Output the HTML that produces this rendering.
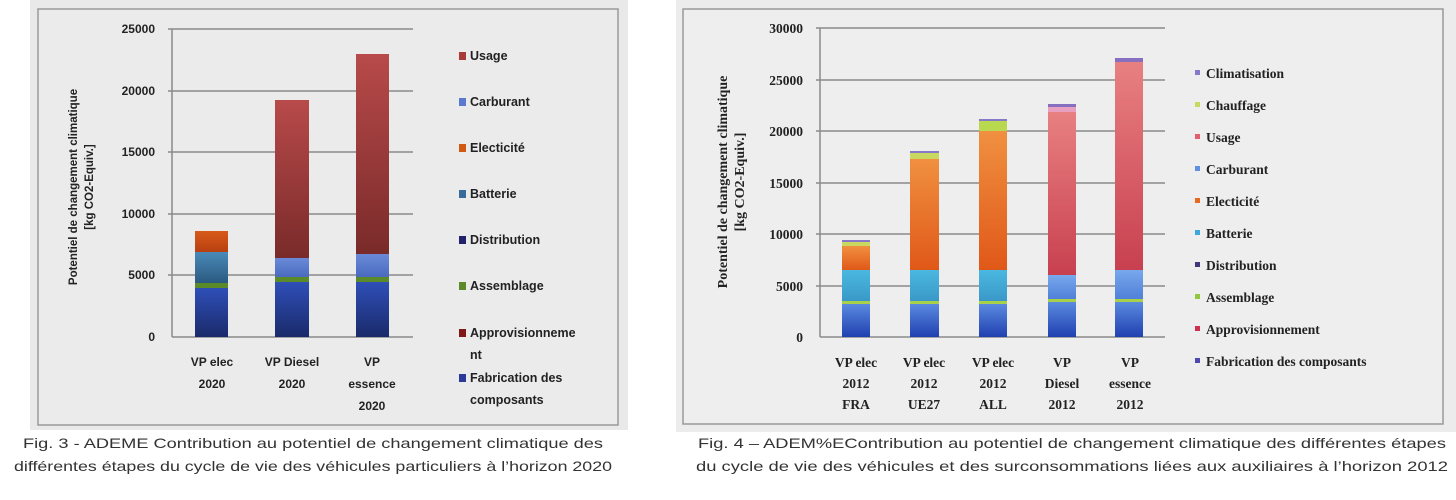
<!DOCTYPE html>
<html><head><meta charset="utf-8"><style>
html,body{margin:0;padding:0;background:#fff;}
svg{display:block;font-family:"Liberation Sans",sans-serif;}
</style></head><body>
<svg width="1456" height="500" viewBox="0 0 1456 500" xmlns="http://www.w3.org/2000/svg">
<defs>
<linearGradient id="gB" x1="0" y1="0" x2="0" y2="1"><stop offset="0" stop-color="#2f4fb8"/><stop offset="1" stop-color="#1a2a6a"/></linearGradient>
<linearGradient id="gR" x1="0" y1="0" x2="0" y2="1"><stop offset="0" stop-color="#b84a4a"/><stop offset="1" stop-color="#7a2a2a"/></linearGradient>
<linearGradient id="gBat" x1="0" y1="0" x2="0" y2="1"><stop offset="0" stop-color="#4a8ab8"/><stop offset="1" stop-color="#2a5a80"/></linearGradient>
<linearGradient id="gC" x1="0" y1="0" x2="0" y2="1"><stop offset="0" stop-color="#6a8ad8"/><stop offset="1" stop-color="#4a6ac0"/></linearGradient>
<linearGradient id="gO" x1="0" y1="0" x2="0" y2="1"><stop offset="0" stop-color="#d85a1a"/><stop offset="1" stop-color="#b84010"/></linearGradient>
<linearGradient id="rB" x1="0" y1="0" x2="0" y2="1"><stop offset="0" stop-color="#5a8ae0"/><stop offset="1" stop-color="#2040b0"/></linearGradient>
<linearGradient id="rCy" x1="0" y1="0" x2="0" y2="1"><stop offset="0" stop-color="#4ab8e0"/><stop offset="1" stop-color="#3a98c8"/></linearGradient>
<linearGradient id="rO" x1="0" y1="0" x2="0" y2="1"><stop offset="0" stop-color="#f09040"/><stop offset="1" stop-color="#e05818"/></linearGradient>
<linearGradient id="rR" x1="0" y1="0" x2="0" y2="1"><stop offset="0" stop-color="#e88080"/><stop offset="1" stop-color="#c84050"/></linearGradient>
<linearGradient id="rC" x1="0" y1="0" x2="0" y2="1"><stop offset="0" stop-color="#78a8ec"/><stop offset="1" stop-color="#5080d8"/></linearGradient>
</defs>
<rect width="1456" height="500" fill="#fff"/>
<!-- LEFT PANEL -->
<rect x="30" y="0" width="598" height="430" fill="#e9e9e9"/>
<rect x="38" y="9" width="580" height="416" fill="#ebebeb" stroke="#999" stroke-width="1.5"/>
<g stroke="#8a8a8a" stroke-width="1.5">
<line x1="168" y1="29" x2="413" y2="29"/><line x1="168" y1="91" x2="413" y2="91"/><line x1="168" y1="152" x2="413" y2="152"/><line x1="168" y1="214" x2="413" y2="214"/><line x1="168" y1="275" x2="413" y2="275"/>
<line x1="172" y1="29" x2="172" y2="337"/><line x1="172" y1="337" x2="413" y2="337"/>
</g>
<g font-size="12" font-weight="bold" fill="#222" text-anchor="end">
<text x="155" y="33">25000</text><text x="155" y="95">20000</text><text x="155" y="156">15000</text><text x="155" y="218">10000</text><text x="155" y="279">5000</text><text x="155" y="341">0</text>
</g>
<text transform="translate(77,187) rotate(-90)" font-size="11.5" font-weight="bold" text-anchor="middle" fill="#222">Potentiel de changement climatique</text>
<text transform="translate(93,187) rotate(-90)" font-size="11.5" font-weight="bold" text-anchor="middle" fill="#222">[kg CO2-Equiv.]</text>
<rect x="195" y="288" width="33" height="49" fill="url(#gB)"/>
<rect x="195" y="283" width="33" height="5" fill="#5a8a2a"/>
<rect x="195" y="252" width="33" height="31" fill="url(#gBat)"/>
<rect x="195" y="231" width="33" height="21" fill="url(#gO)"/>
<rect x="275" y="282" width="34" height="55" fill="url(#gB)"/>
<rect x="275" y="277" width="34" height="5" fill="#5a8a2a"/>
<rect x="275" y="258" width="34" height="19" fill="url(#gC)"/>
<rect x="275" y="100" width="34" height="158" fill="url(#gR)"/>
<rect x="356" y="282" width="33" height="55" fill="url(#gB)"/>
<rect x="356" y="277" width="33" height="5" fill="#5a8a2a"/>
<rect x="356" y="254" width="33" height="23" fill="url(#gC)"/>
<rect x="356" y="54" width="33" height="200" fill="url(#gR)"/>
<g font-size="12" font-weight="bold" fill="#222" text-anchor="middle">
<text x="212" y="366">VP elec</text><text x="212" y="388">2020</text>
<text x="292" y="366">VP Diesel</text><text x="292" y="388">2020</text>
<text x="372" y="366">VP</text><text x="372" y="388">essence</text><text x="372" y="410">2020</text>
</g>
<g font-size="12.5" font-weight="bold" fill="#222">
<rect x="459" y="52" width="7" height="8" fill="#a83a3a"/><text x="470" y="60">Usage</text>
<rect x="459" y="98" width="7" height="8" fill="#5a7ad0"/><text x="470" y="106">Carburant</text>
<rect x="459" y="144" width="7" height="8" fill="#d05a10"/><text x="470" y="152">Electicité</text>
<rect x="459" y="190" width="7" height="8" fill="#3a6a98"/><text x="470" y="198">Batterie</text>
<rect x="459" y="236" width="7" height="8" fill="#22226a"/><text x="470" y="244">Distribution</text>
<rect x="459" y="282" width="7" height="8" fill="#5a8a2a"/><text x="470" y="290">Assemblage</text>
<rect x="459" y="329" width="7" height="8" fill="#801818"/><text x="470" y="337">Approvisionneme</text><text x="470" y="359">nt</text>
<rect x="459" y="374" width="7" height="8" fill="#2a3a98"/><text x="470" y="382">Fabrication des</text><text x="470" y="404">composants</text>
</g>
<!-- RIGHT PANEL -->
<rect x="676" y="0" width="780" height="432" fill="#ececec"/>
<rect x="683" y="9" width="760" height="415" fill="#eeeeee" stroke="#999" stroke-width="1.5"/>
<g stroke="#8a8a8a" stroke-width="1.5">
<line x1="816" y1="28" x2="1165" y2="28"/><line x1="816" y1="80" x2="1165" y2="80"/><line x1="816" y1="131" x2="1165" y2="131"/><line x1="816" y1="183" x2="1165" y2="183"/><line x1="816" y1="234" x2="1165" y2="234"/><line x1="816" y1="286" x2="1165" y2="286"/>
<line x1="820" y1="28" x2="820" y2="337"/><line x1="820" y1="337" x2="1165" y2="337"/>
</g>
<g font-family="Liberation Serif, serif" font-size="13.5" font-weight="bold" fill="#222" text-anchor="end">
<text x="803" y="33">30000</text><text x="803" y="85">25000</text><text x="803" y="136">20000</text><text x="803" y="188">15000</text><text x="803" y="239">10000</text><text x="803" y="291">5000</text><text x="803" y="342">0</text>
</g>
<text transform="translate(727,182) rotate(-90)" font-family="Liberation Serif, serif" font-size="14" font-weight="bold" text-anchor="middle" fill="#222">Potentiel de changement climatique</text>
<text transform="translate(744,182) rotate(-90)" font-family="Liberation Serif, serif" font-size="14" font-weight="bold" text-anchor="middle" fill="#222">[kg CO2-Equiv.]</text>
<rect x="842" y="304" width="28" height="33" fill="url(#rB)"/><rect x="842" y="301" width="28" height="3" fill="#a8d048"/>
<rect x="842" y="270" width="28" height="31" fill="url(#rCy)"/><rect x="842" y="246" width="28" height="24" fill="url(#rO)"/>
<rect x="842" y="242" width="28" height="4" fill="#c8d860"/><rect x="842" y="240" width="28" height="2" fill="#8878c8"/>
<rect x="910" y="304" width="29" height="33" fill="url(#rB)"/><rect x="910" y="301" width="29" height="3" fill="#a8d048"/>
<rect x="910" y="270" width="29" height="31" fill="url(#rCy)"/><rect x="910" y="159" width="29" height="111" fill="url(#rO)"/>
<rect x="910" y="153" width="29" height="6" fill="#c8d860"/><rect x="910" y="151" width="29" height="2" fill="#8878c8"/>
<rect x="979" y="304" width="28" height="33" fill="url(#rB)"/><rect x="979" y="301" width="28" height="3" fill="#a8d048"/>
<rect x="979" y="270" width="28" height="31" fill="url(#rCy)"/><rect x="979" y="131" width="28" height="139" fill="url(#rO)"/>
<rect x="979" y="121" width="28" height="10" fill="#b8d850"/><rect x="979" y="119" width="28" height="2" fill="#8878c8"/>
<rect x="1048" y="302" width="28" height="35" fill="url(#rB)"/><rect x="1048" y="299" width="28" height="3" fill="#a8d048"/>
<rect x="1048" y="275" width="28" height="24" fill="url(#rC)"/><rect x="1048" y="112" width="28" height="163" fill="url(#rR)"/>
<rect x="1048" y="107" width="28" height="5" fill="#e8a0c0"/><rect x="1048" y="104" width="28" height="3" fill="#8870c0"/>
<rect x="1115" y="302" width="28" height="35" fill="url(#rB)"/><rect x="1115" y="299" width="28" height="3" fill="#a8d048"/>
<rect x="1115" y="270" width="28" height="29" fill="url(#rC)"/><rect x="1115" y="62" width="28" height="208" fill="url(#rR)"/>
<rect x="1115" y="58" width="28" height="4" fill="#8870c0"/>
<g font-family="Liberation Serif, serif" font-size="13.5" font-weight="bold" fill="#222" text-anchor="middle">
<text x="856" y="367">VP elec</text><text x="856" y="388">2012</text><text x="856" y="409">FRA</text>
<text x="924" y="367">VP elec</text><text x="924" y="388">2012</text><text x="924" y="409">UE27</text>
<text x="993" y="367">VP elec</text><text x="993" y="388">2012</text><text x="993" y="409">ALL</text>
<text x="1062" y="367">VP</text><text x="1062" y="388">Diesel</text><text x="1062" y="409">2012</text>
<text x="1130" y="367">VP</text><text x="1130" y="388">essence</text><text x="1130" y="409">2012</text>
</g>
<g font-family="Liberation Serif, serif" font-size="13.5" font-weight="bold" fill="#222">
<rect x="1195" y="70" width="5" height="5" fill="#8878c8"/><text x="1206" y="78">Climatisation</text>
<rect x="1195" y="102" width="5" height="5" fill="#c8d860"/><text x="1206" y="110">Chauffage</text>
<rect x="1195" y="134" width="5" height="5" fill="#e06070"/><text x="1206" y="142">Usage</text>
<rect x="1195" y="166" width="5" height="5" fill="#6090e0"/><text x="1206" y="174">Carburant</text>
<rect x="1195" y="198" width="5" height="5" fill="#e86820"/><text x="1206" y="206">Electicité</text>
<rect x="1195" y="230" width="5" height="5" fill="#3aa8d8"/><text x="1206" y="238">Batterie</text>
<rect x="1195" y="262" width="5" height="5" fill="#403878"/><text x="1206" y="270">Distribution</text>
<rect x="1195" y="294" width="5" height="5" fill="#90c840"/><text x="1206" y="302">Assemblage</text>
<rect x="1195" y="326" width="5" height="5" fill="#d03050"/><text x="1206" y="334">Approvisionnement</text>
<rect x="1195" y="358" width="5" height="5" fill="#5048b0"/><text x="1206" y="366">Fabrication des composants</text>
</g>
<g font-size="14" fill="#333" text-anchor="middle">
<text x="313" y="448" textLength="580" lengthAdjust="spacingAndGlyphs">Fig. 3 - ADEME Contribution au potentiel de changement climatique des</text>
<text x="313" y="471" textLength="598" lengthAdjust="spacingAndGlyphs">différentes étapes du cycle de vie des véhicules particuliers à l’horizon 2020</text>
<text x="1072" y="448" textLength="748" lengthAdjust="spacingAndGlyphs">Fig. 4 – ADEM%EContribution au potentiel de changement climatique des différentes étapes</text>
<text x="1072" y="471" textLength="752" lengthAdjust="spacingAndGlyphs">du cycle de vie des véhicules et des surconsommations liées aux auxiliaires à l’horizon 2012</text>
</g>
</svg>
</body></html>
